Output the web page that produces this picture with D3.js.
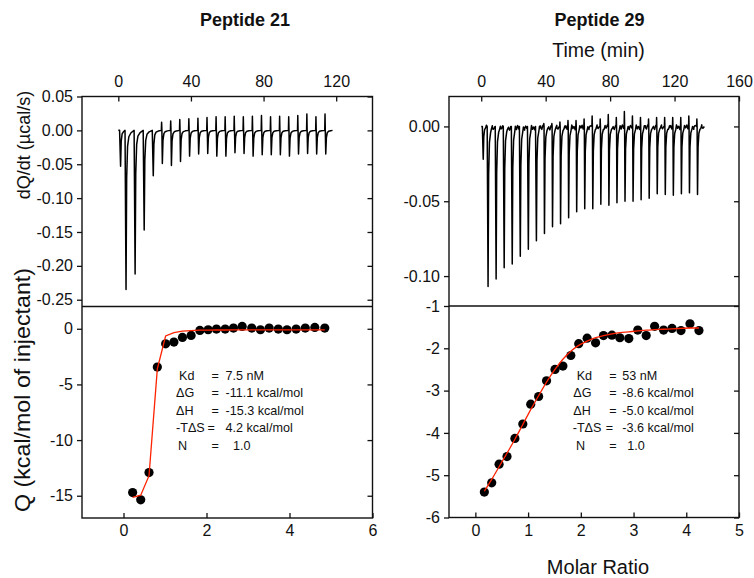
<!DOCTYPE html>
<html>
<head>
<meta charset="utf-8">
<script src="https://cdn.jsdelivr.net/npm/d3@7"></script>
<style>
  body { margin: 0; background: #fff; }
  svg { display: block; }
  text { font-family: "Liberation Sans", Arial, sans-serif; fill: #111; }
  .tick text { font-size: 16px; }
  .domain { display: none; }
  .tick line { stroke: #111; stroke-width: 1.3; }
</style>
</head>
<body>
<svg id="chart" width="754" height="578"></svg>
<script>
// ---- Peptide 21 ----
var p21InjTimes = [1, 4, 9, 14, 19, 24, 29, 34, 39, 44, 49, 54, 59, 64, 69, 74, 79, 84, 89, 94, 99, 104, 109, 114];
var p21Peaks = [-0.053, -0.235, -0.212, -0.147, -0.067, -0.049, -0.052, -0.046, -0.038, -0.035, -0.034, -0.038,
                -0.038, -0.033, -0.034, -0.038, -0.036, -0.036, -0.036, -0.038, -0.035, -0.034, -0.035, -0.035];
var p21Ups = [0, 0, 0, 0, 0, 0.012, 0.014, 0.016, 0.017, 0.018, 0.019, 0.020, 0.020, 0.021, 0.020, 0.021,
              0.022, 0.020, 0.021, 0.020, 0.022, 0.024, 0.020, 0.024];
var p21Ratio = [0.22, 0.415, 0.615, 0.815, 1.015, 1.215, 1.42, 1.63, 1.84, 2.04, 2.24, 2.45, 2.65, 2.86,
                3.09, 3.30, 3.51, 3.73, 3.94, 4.16, 4.38, 4.61, 4.85];
var p21Heat = [-14.72, -15.37, -12.92, -3.44, -1.35, -1.20, -0.78, -0.60, -0.15, -0.09, -0.03, -0.03, 0.06,
               0.21, 0.06, -0.09, 0.06, -0.03, -0.09, -0.03, 0.06, 0.12, 0.06];
var p21Fit = [-15.15, -14.95, -13.2, -3.6, -0.65, -0.35, -0.22, -0.16, -0.13, -0.12, -0.11, -0.11, -0.1,
              -0.1, -0.1, -0.1, -0.1, -0.1, -0.1, -0.1, -0.1, -0.1, -0.1];
var p21Stats = [["Kd", "7.5 nM"], ["\u0394G", "-11.1 kcal/mol"], ["\u0394H", "-15.3 kcal/mol"],
                ["-T\u0394S", "4.2 kcal/mol"], ["N", "1.0"]];
var p21TimeTicks = [0, 40, 80, 120];
var p21PowerTicks = [0.05, 0, -0.05, -0.10, -0.15, -0.20, -0.25];
var p21HeatTicks = [0, -5, -10, -15];
var p21RatioTicks = [0, 2, 4, 6];

// ---- Peptide 29 ----
var p29InjTimes = [1, 4, 9, 14, 19, 24, 29, 34, 39, 44, 49, 54, 59, 64, 69, 74, 79, 84, 89, 94, 99, 104,
                   109, 114, 119, 124, 129, 134];
var p29Peaks = [-0.022, -0.107, -0.102, -0.0945, -0.092, -0.0867, -0.082, -0.0764, -0.0716, -0.067, -0.065,
                -0.061, -0.057, -0.055, -0.055, -0.052, -0.0527, -0.051, -0.050, -0.050, -0.049, -0.048,
                -0.045, -0.0455, -0.046, -0.045, -0.0444, -0.0455];
var p29Ups = [0, 0, 0, 0, 0, 0, 0, 0, 0.002, 0.002, 0.003, 0.004, 0.004, 0.005, 0.007, 0.005, 0.008, 0.006,
              0.010, 0.007, 0.006, 0.005, 0.006, 0.006, 0.006, 0.006, 0.007, 0.005];
var p29Wiggle = [0.0010, -0.0012, 0.0015, -0.0008, 0.0005, -0.0016, 0.0011, -0.0005, 0.0014, -0.0011, 0.0004,
                 -0.0015, 0.0009];
var p29Ratio = [0.17, 0.31, 0.45, 0.60, 0.75, 0.90, 1.05, 1.20, 1.35, 1.51, 1.66, 1.81, 1.96, 2.12, 2.28,
                2.43, 2.59, 2.74, 2.91, 3.08, 3.24, 3.40, 3.57, 3.73, 3.90, 4.07, 4.24];
var p29Heat = [-5.40, -5.18, -4.74, -4.56, -4.13, -3.79, -3.32, -3.14, -2.77, -2.50, -2.42, -2.17, -1.89,
               -1.76, -1.87, -1.70, -1.69, -1.75, -1.77, -1.57, -1.70, -1.48, -1.57, -1.53, -1.58, -1.42, -1.58];
var p29Fit = [-5.38, -5.10, -4.80, -4.48, -4.15, -3.80, -3.45, -3.12, -2.80, -2.50, -2.26, -2.07, -1.93,
              -1.83, -1.75, -1.70, -1.66, -1.63, -1.61, -1.59, -1.57, -1.56, -1.55, -1.54, -1.53, -1.52, -1.52];
var p29Stats = [["Kd", "53 nM"], ["\u0394G", "-8.6 kcal/mol"], ["\u0394H", "-5.0 kcal/mol"],
                ["-T\u0394S", "-3.6 kcal/mol"], ["N", "1.0"]];
var p29TimeTicks = [0, 40, 80, 120, 160];
var p29PowerTicks = [0, -0.05, -0.10];
var p29HeatTicks = [-1, -2, -3, -4, -5, -6];
var p29RatioTicks = [0, 1, 2, 3, 4, 5];

var svg = d3.select("#chart");

// builds the raw thermogram trace from injection times / peak heights
function thermogram(times, peaks, ups, tEnd, wiggle) {
    var pts = [[0, 0]];
    var w = 0;
    times.forEach(function (t0, i) {
        var d = peaks[i], u = ups[i];
        var next = (i < times.length - 1) ? times[i + 1] : tEnd;
        pts.push([t0 - 0.3, 0]);
        if (u > 0) {
            pts.push([t0 - 0.15, u]);
            pts.push([t0, 0]);
        }
        pts.push([t0 + 0.25, d]);
        var tail = [[0.6, 0.3], [1.1, 0.1], [1.8, 0.04], [3.0, 0.015]];
        tail.forEach(function (p) {
            if (t0 + p[0] < next - 0.3) pts.push([t0 + p[0], d * p[1]]);
        });
        if (wiggle) {
            for (var t = t0 + 2.2; t < next - 0.4; t += 0.7) {
                pts.push([t, wiggle[w % wiggle.length] + d * 0.01]);
                w++;
            }
        }
    });
    pts.push([tEnd, 0]);
    pts.sort(function (a, b) { return a[0] - b[0]; });
    return pts;
}

function fmt2(d) { return d.toFixed(2); }
function fmt0(d) { return String(d); }

function panel(cfg) {
    var g = svg.append("g");
    var xT = d3.scaleLinear().domain(cfg.timeDomain).range([cfg.x0, cfg.x1]);
    var yT = d3.scaleLinear().domain(cfg.powerDomain).range([cfg.yMid, cfg.yTop]);
    var xR = d3.scaleLinear().domain(cfg.ratioDomain).range([cfg.x0, cfg.x1]);
    var yR = d3.scaleLinear().domain(cfg.heatDomain).range([cfg.yBot, cfg.yMid]);

    // thermogram
    var pts = thermogram(cfg.times, cfg.peaks, cfg.ups, cfg.tEnd, cfg.wiggle);
    g.append("path")
        .attr("d", d3.line().x(function (d) { return xT(d[0]); }).y(function (d) { return yT(d[1]); })(pts))
        .attr("fill", "none")
        .attr("stroke", "#000")
        .attr("stroke-width", 1.5)
        .attr("stroke-linejoin", "round");

    // integrated heats
    var fitLine = d3.line()
        .x(function (d, i) { return xR(cfg.ratio[i]); })
        .y(function (d) { return yR(d); })
        .curve(cfg.smooth ? d3.curveMonotoneX : d3.curveLinear);
    g.selectAll("circle.pt").data(cfg.heat).enter().append("circle")
        .attr("class", "pt")
        .attr("cx", function (d, i) { return xR(cfg.ratio[i]); })
        .attr("cy", function (d) { return yR(d); })
        .attr("r", 4.6)
        .attr("fill", "#000");
    g.append("path")
        .attr("d", fitLine(cfg.fit))
        .attr("fill", "none")
        .attr("stroke", "#ff2200")
        .attr("stroke-width", 1.3);

    // frames
    g.append("rect")
        .attr("x", cfg.x0).attr("y", cfg.yTop)
        .attr("width", cfg.x1 - cfg.x0).attr("height", cfg.yBot - cfg.yTop)
        .attr("fill", "none").attr("stroke", "#111").attr("stroke-width", 1.4);
    g.append("line")
        .attr("x1", cfg.x0).attr("x2", cfg.x1)
        .attr("y1", cfg.yMid).attr("y2", cfg.yMid)
        .attr("stroke", "#111").attr("stroke-width", 1.4);

    // axes
    g.append("g").attr("transform", "translate(0," + cfg.yTop + ")")
        .call(d3.axisTop(xT).tickValues(cfg.timeTicks).tickFormat(fmt0).tickSize(-5).tickPadding(10));
    g.append("g").attr("transform", "translate(0," + cfg.yBot + ")")
        .call(d3.axisBottom(xR).tickValues(cfg.ratioTicks).tickFormat(fmt0).tickSize(-5).tickPadding(7));
    g.append("g").attr("transform", "translate(" + cfg.x0 + ",0)")
        .call(d3.axisLeft(yT).tickValues(cfg.powerTicks).tickFormat(fmt2).tickSize(5).tickPadding(4));
    g.append("g").attr("transform", "translate(" + cfg.x0 + ",0)")
        .call(d3.axisLeft(yR).tickValues(cfg.heatTicks).tickFormat(fmt0).tickSize(5).tickPadding(4));
    g.append("g").attr("transform", "translate(" + cfg.x1 + ",0)")
        .call(d3.axisRight(yT).tickValues(cfg.powerTicks).tickFormat("").tickSize(-5));
    g.append("g").attr("transform", "translate(" + cfg.x1 + ",0)")
        .call(d3.axisRight(yR).tickValues(cfg.heatTicks).tickFormat("").tickSize(-5));

    // fit results
    var rowY = [379.5, 396.5, 414.5, 431.5, 449.5];
    cfg.stats.forEach(function (s, i) {
        g.append("text").attr("x", cfg.statX[0][i]).attr("y", rowY[i]).attr("font-size", 12.6).text(s[0]);
        g.append("text").attr("x", cfg.statX[1][i]).attr("y", rowY[i]).attr("font-size", 12.6).text("=");
        g.append("text").attr("x", cfg.statX[2][i]).attr("y", rowY[i]).attr("font-size", 12.6).text(s[1]);
    });

    g.append("text")
        .attr("x", cfg.titleX).attr("y", 26)
        .attr("text-anchor", "middle")
        .attr("font-size", 18).attr("font-weight", "bold")
        .text(cfg.title);
}

panel({
    title: "Peptide 21", titleX: 245,
    x0: 82, x1: 372.5, yTop: 96.5, yMid: 306.5, yBot: 518,
    timeDomain: [-20, 140], powerDomain: [-0.26, 0.05], ratioDomain: [-1, 6], heatDomain: [-17, 2],
    times: p21InjTimes, peaks: p21Peaks, ups: p21Ups, tEnd: 118, wiggle: null,
    ratio: p21Ratio, heat: p21Heat, fit: p21Fit, smooth: false,
    timeTicks: p21TimeTicks, powerTicks: p21PowerTicks, heatTicks: p21HeatTicks, ratioTicks: p21RatioTicks,
    stats: p21Stats,
    statX: [[179, 176, 176, 176, 178], [211.5, 211.5, 211.5, 207.5, 211.5], [225.5, 225.5, 225.5, 225.5, 233]]
});

panel({
    title: "Peptide 29", titleX: 599.5,
    x0: 449, x1: 739, yTop: 96.5, yMid: 306, yBot: 517.5,
    timeDomain: [-20, 160], powerDomain: [-0.12, 0.02], ratioDomain: [-0.5, 5], heatDomain: [-6, -1],
    times: p29InjTimes, peaks: p29Peaks, ups: p29Ups, tEnd: 138.5, wiggle: p29Wiggle,
    ratio: p29Ratio, heat: p29Heat, fit: p29Fit, smooth: true,
    timeTicks: p29TimeTicks, powerTicks: p29PowerTicks, heatTicks: p29HeatTicks, ratioTicks: p29RatioTicks,
    stats: p29Stats,
    statX: [[576.7, 573.3, 573.3, 572.7, 576], [609.3, 609.3, 609.3, 605.8, 609.3], [622.3, 622.3, 622.3, 622.3, 627.3]]
});

// shared axis titles
svg.append("text").attr("x", 598.5).attr("y", 57).attr("text-anchor", "middle")
    .attr("font-size", 19.5).text("Time (min)");
svg.append("text").attr("x", 598).attr("y", 574).attr("text-anchor", "middle")
    .attr("font-size", 20).text("Molar Ratio");
svg.append("text").attr("transform", "translate(30,145) rotate(-90)").attr("text-anchor", "middle")
    .attr("font-size", 18).text("dQ/dt (\u00b5cal/s)");
svg.append("text").attr("transform", "translate(30,390) rotate(-90)").attr("text-anchor", "middle")
    .attr("font-size", 21.5).attr("textLength", 244).attr("lengthAdjust", "spacingAndGlyphs")
    .text("Q (kcal/mol of injectant)");
</script>
</body>
</html>
